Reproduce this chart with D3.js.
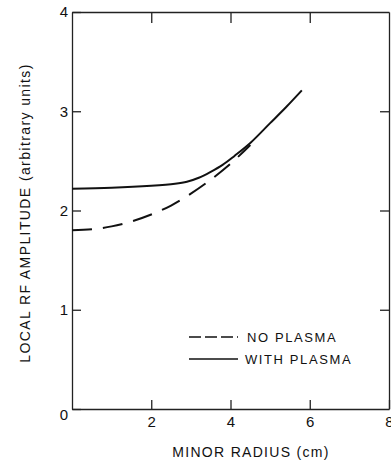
<!DOCTYPE html>
<html>
<head>
<meta charset="utf-8">
<script src="https://cdn.jsdelivr.net/npm/d3@7"></script>
<style>
  body { margin: 0; background: #fff; }
  svg { display: block; }
  text { font-family: "Liberation Sans", Arial, sans-serif; fill: #111; }
  .axis path, .axis line { stroke: #222; stroke-width: 1.3; }
</style>
</head>
<body>
<div id="chart"></div>
<script>
// data
var radiusWith = [0, 1, 2, 2.6, 2.9, 3.2, 3.5, 3.8, 4.1, 4.5, 5.0, 5.4, 5.8];
var ampWith = [2.22, 2.23, 2.25, 2.27, 2.29, 2.33, 2.39, 2.46, 2.55, 2.68, 2.88, 3.04, 3.21];
var radiusNo = [0, 0.5, 1, 1.5, 2, 2.5, 3, 3.5, 4, 4.5];
var ampNo = [1.80, 1.81, 1.84, 1.89, 1.96, 2.05, 2.17, 2.31, 2.47, 2.66];
var xTicks = [0, 2, 4, 6, 8];
var yTicks = [0, 1, 2, 3, 4];
var legendLabels = ['NO PLASMA', 'WITH PLASMA'];

var chartWidth = 391;
var chartHeight = 464;
var plotLeft = 72, plotRight = 389, plotTop = 12, plotBottom = 409;

var svg = d3.select('#chart')
    .append('svg')
    .attr('width', chartWidth)
    .attr('height', chartHeight);

var x = d3.scaleLinear().domain([0, 8]).range([plotLeft, plotRight]);
var y = d3.scaleLinear().domain([0, 4]).range([plotBottom, plotTop]);

// axes, ticks pointing inward
svg.append('g')
    .attr('class', 'axis')
    .attr('transform', 'translate(0,' + plotBottom + ')')
    .call(d3.axisBottom(x).tickValues(xTicks.slice(1)).tickSize(-9).tickSizeOuter(0).tickPadding(7)
        .tickFormat(d3.format('d')));
var axisL = svg.append('g')
    .attr('class', 'axis')
    .attr('transform', 'translate(' + plotLeft + ',0)')
    .call(d3.axisLeft(y).tickValues(yTicks).tickSize(-9).tickSizeOuter(0).tickPadding(4)
        .tickFormat(d3.format('d')));
svg.append('g')
    .attr('class', 'axis')
    .attr('transform', 'translate(0,' + plotTop + ')')
    .call(d3.axisTop(x).tickValues(xTicks.slice(1, -1)).tickSize(-11).tickSizeOuter(0).tickFormat(''));
svg.append('g')
    .attr('class', 'axis')
    .attr('transform', 'translate(' + plotRight + ',0)')
    .call(d3.axisRight(y).tickValues(yTicks.slice(1, -1)).tickSize(-9).tickSizeOuter(0).tickFormat(''));

svg.selectAll('.axis text')
    .attr('font-size', 15)
    .style('font-family', '"Liberation Sans", Arial, sans-serif')
    .attr('fill', '#111');
// the shared 0 sits at the corner
axisL.selectAll('.tick text')
    .filter(function(d) { return d === 0; })
    .attr('dy', '0.72em');

// axis titles
svg.append('text')
    .attr('x', 251)
    .attr('y', 457)
    .attr('text-anchor', 'middle')
    .attr('font-size', 14)
    .attr('letter-spacing', 1.3)
    .text('MINOR RADIUS (cm)');
svg.append('text')
    .attr('transform', 'translate(30,213) rotate(-90)')
    .attr('text-anchor', 'middle')
    .attr('font-size', 14)
    .attr('letter-spacing', 1.4)
    .text('LOCAL RF AMPLITUDE (arbitrary units)');

// curves
var line = d3.line()
    .x(function(d) { return x(d[0]); })
    .y(function(d) { return y(d[1]); })
    .curve(d3.curveCatmullRom.alpha(0.5));

svg.append('path')
    .datum(d3.zip(radiusNo, ampNo))
    .attr('d', line)
    .attr('fill', 'none')
    .attr('stroke', '#111')
    .attr('stroke-width', 2)
    .attr('stroke-dasharray', '20,11');
svg.append('path')
    .datum(d3.zip(radiusWith, ampWith))
    .attr('d', line)
    .attr('fill', 'none')
    .attr('stroke', '#111')
    .attr('stroke-width', 2);

// legend
var legend = svg.append('g');
legendLabels.forEach(function(label, i) {
  var ly = 337 + i * 22;
  legend.append('line')
      .attr('x1', 189).attr('x2', 238)
      .attr('y1', ly).attr('y2', ly)
      .attr('stroke', '#111')
      .attr('stroke-width', 1.4)
      .attr('stroke-dasharray', i === 0 ? '12,4' : null);
  legend.append('text')
      .attr('x', i === 0 ? 247 : 245)
      .attr('y', ly + 5)
      .attr('font-size', 13)
      .attr('letter-spacing', 1.6)
      .text(label);
});
</script>
</body>
</html>
